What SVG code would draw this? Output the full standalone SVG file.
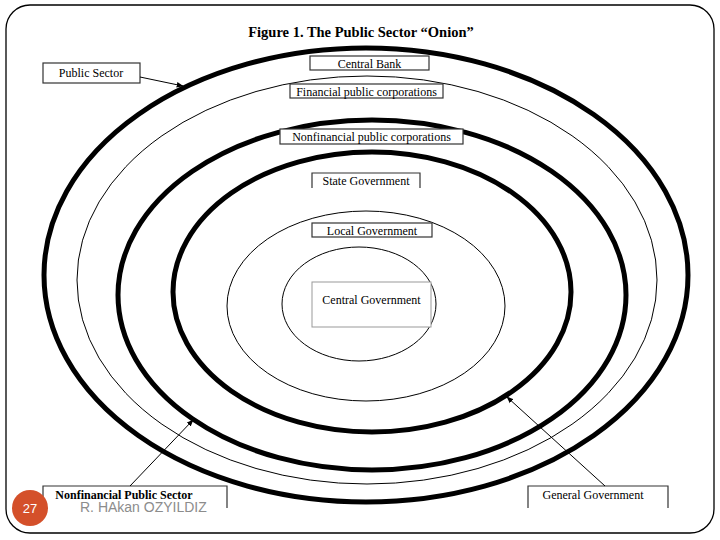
<svg xmlns="http://www.w3.org/2000/svg" width="720" height="540" viewBox="0 0 720 540">
<style>
.thick{fill:none;stroke:#000;stroke-width:5}
.thin{fill:none;stroke:#000;stroke-width:1}
.box{fill:#fff;stroke:#333;stroke-width:1.2}
.lbl{font-family:"Liberation Serif",serif;font-size:12px;fill:#000;text-anchor:middle}
.conn{stroke:#000;stroke-width:1;fill:none;marker-end:url(#ah)}
</style>
<defs>
<marker id="ah" viewBox="0 0 10 10" refX="9" refY="5" markerWidth="7" markerHeight="7" orient="auto" markerUnits="userSpaceOnUse">
<path d="M0,1 L10,5 L0,9 z" fill="#000"/>
</marker>
</defs>
<rect x="0" y="0" width="720" height="540" fill="#fff"/>
<rect x="6" y="5" width="708" height="528" rx="24" ry="24" fill="none" stroke="#000" stroke-width="1.3"/>
<text x="361" y="37" font-family="Liberation Serif,serif" font-size="14.5" font-weight="bold" text-anchor="middle">Figure 1. The Public Sector “Onion”</text>
<g id="rings">
<ellipse class="thick" cx="366" cy="275" rx="322" ry="227"/>
<ellipse class="thin" cx="367" cy="280" rx="290" ry="204"/>
<ellipse class="thick" cx="372" cy="295" rx="254" ry="175"/>
<ellipse class="thick" cx="372" cy="292" rx="199" ry="140"/>
<ellipse class="thin" cx="366" cy="306" rx="139" ry="95"/>
<ellipse class="thin" cx="359" cy="304" rx="77" ry="57"/>
</g>
<g id="central-bank">
<rect class="box" x="310" y="56" width="119" height="14"/>
<text class="lbl" x="369.5" y="67.5">Central Bank</text>
</g>
<g id="financial">
<rect class="box" x="290" y="84" width="153" height="14" stroke-width="1.6"/>
<text class="lbl" x="366.5" y="95.5">Financial public corporations</text>
</g>
<g id="nonfinancial">
<rect class="box" x="280" y="129" width="183" height="15"/>
<text class="lbl" x="371.5" y="140.5">Nonfinancial public corporations</text>
</g>
<g id="state">
<rect x="312" y="173" width="108" height="15" fill="#fff" stroke="none"/>
<path d="M312,188 V173 H420 V188" class="box" fill="none"/>
<text class="lbl" x="366" y="185">State Government</text>
</g>
<g id="local">
<rect class="box" x="312" y="223" width="120" height="14"/>
<text class="lbl" x="372" y="234.5">Local Government</text>
</g>
<g id="central-gov">
<rect x="312" y="282" width="119" height="45" fill="#fff" stroke="#999" stroke-width="1"/>
<text class="lbl" x="371.5" y="303.5">Central Government</text>
</g>
<g id="public-sector">
<rect class="box" x="43" y="63" width="97" height="20"/>
<text class="lbl" x="91" y="77" font-size="13.5">Public Sector</text>
</g>
<g id="nonfin-public-sector">
<rect x="43" y="486" width="184" height="22" fill="#fff" stroke="none"/>
<path d="M43,508 V486 H227 V508" fill="none" stroke="#333" stroke-width="1.2"/>
<text class="lbl" x="124" y="499" font-weight="bold" font-size="12.5">Nonfinancial Public Sector</text>
</g>
<g id="general-government">
<rect x="528" y="486" width="140" height="22" fill="#fff" stroke="none"/>
<path d="M528,508 V486 H668 V508" fill="none" stroke="#333" stroke-width="1.2"/>
<text class="lbl" x="593" y="499" font-size="12.5">General Government</text>
</g>
<g id="connectors">
<line class="conn" x1="140" y1="77" x2="183" y2="86"/>
<line class="conn" x1="130" y1="486" x2="193" y2="420"/>
<line class="conn" x1="605" y1="486" x2="507" y2="397"/>
</g>
<g id="footer">
<circle cx="30" cy="508" r="18" fill="#D4502A"/>
<text x="30" y="513" font-family="Liberation Sans,sans-serif" font-size="13" fill="#fff" text-anchor="middle">27</text>
<text x="80" y="512" font-family="Liberation Sans,sans-serif" font-size="14" fill="#8c8c8c">R. HAkan OZYILDIZ</text>
</g>
</svg>
